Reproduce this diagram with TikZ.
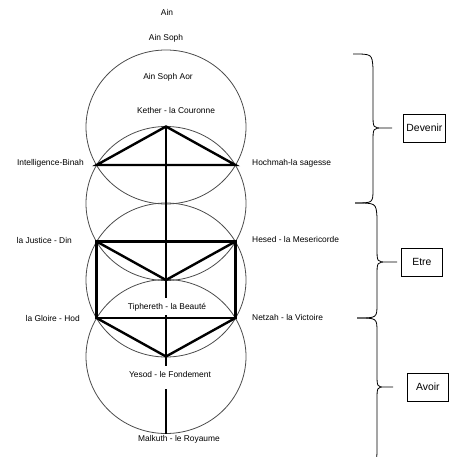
\documentclass[tikz,border=0pt]{standalone}
\usepackage{fontspec}
\setmainfont{Liberation Sans}
\usepackage{tikz}
\usetikzlibrary{positioning}

\begin{document}
\begin{tikzpicture}[
    x=1pt, y=-1pt,
    sphere/.style={draw=black!70, line width=0.8pt},
    channel/.style={line width=2.4pt},
    sefira/.style={font=\fontsize{8.4}{10}\selectfont, inner sep=1pt},
    curl/.style={line width=0.8pt},
    stage/.style={draw, line width=0.8pt, minimum width=42pt, minimum height=28pt, inner sep=0pt, font=\fontsize{10.4}{12}\selectfont}
]
\useasboundingbox (0,0) rectangle (456,457);

% the four circles
\draw[sphere] (166,127) ellipse [x radius=80, y radius=77];
\draw[sphere] (166,203.5) ellipse [x radius=80, y radius=77];
\draw[sphere] (166,280) ellipse [x radius=80, y radius=77];
\draw[sphere] (166,356.5) ellipse [x radius=80, y radius=77];

% the points of the tree
\coordinate (kether) at (166,126.5);
\coordinate (binah) at (96.6,165);
\coordinate (hochmah) at (235.4,165);
\coordinate (justice) at (96.6,241.5);
\coordinate (hesed) at (235.4,241.5);
\coordinate (tiphereth) at (166,280);
\coordinate (gloire) at (96.6,318);
\coordinate (netzah) at (235.4,318);
\coordinate (yesod) at (166,356.5);
\coordinate (malkuth) at (166,434);

\draw[channel] (kether) -- (malkuth);
\draw[channel] (binah) -- (kether) -- (hochmah) -- cycle;
\draw[channel] (justice) -- (hesed) -- (netzah) -- (gloire) -- cycle;
\draw[channel] (justice) -- (tiphereth) -- (hesed);
\draw[channel] (gloire) -- (yesod) -- (netzah);

% names
\node[sefira] (ain) at (167,12) {Ain};
\node[sefira] (ainsoph) at (166,38) {Ain Soph};
\node[sefira] (ainsophaor) at (168,77) {Ain Soph Aor};
\node[sefira] (ketherlabel) at (176,110) {Kether - la Couronne};
\node[sefira, anchor=east] (binahlabel) at (85,163) {Intelligence-Binah};
\node[sefira, anchor=west] (hochmahlabel) at (251,163) {Hochmah-la sagesse};
\node[sefira, anchor=east] (justicelabel) at (73,240) {la Justice - Din};
\node[sefira, anchor=west] (hesedlabel) at (251,239) {Hesed - la Mesericorde};
\node[sefira, anchor=east] (gloirelabel) at (81,318) {la Gloire - Hod};
\node[sefira, anchor=west] (netzahlabel) at (251,317) {Netzah - la Victoire};
\node[sefira, fill=white, anchor=base, text height=11pt, text depth=6pt, inner ysep=0pt] (tipherethlabel) at (167,309) {Tiphereth - la Beaut\'e};
\node[sefira, fill=white, anchor=base, text height=12pt, text depth=11pt, inner ysep=0pt] (yesodlabel) at (170,377.5) {Yesod - le Fondement};
\node[sefira] (malkuthlabel) at (179,439) {Malkuth - le Royaume};

% braces
\coordinate (devenirtip) at (392,128);
\coordinate (etretip) at (397,262);
\coordinate (avoirtip) at (393,387);
\draw[curl] (353,54) .. controls (372,54) .. (373,68) -- (373,114) .. controls (373,128) .. (383,128) -- (devenirtip) -- (383,128) .. controls (373,128) .. (373,142) -- (373,189) .. controls (373,203) .. (355,203);
\draw[curl] (355,203) .. controls (376,203) .. (377,217) -- (377,248) .. controls (377,262) .. (387,262) -- (etretip) -- (387,262) .. controls (377,262) .. (377,276) -- (377,304) .. controls (377,318) .. (357,318);
\draw[curl] (357,318) .. controls (377,318) .. (377,332) -- (377,373) .. controls (377,387) .. (385,387) -- (avoirtip) -- (385,387) .. controls (377,387) .. (377,401) -- (377,449) .. controls (377,463) .. (357,463);

\node[stage, right=11pt of devenirtip] (devenir) {Devenir};
\node[stage, minimum width=41pt, right=4pt of etretip] (etre) {Etre};
\node[stage, minimum width=41pt, right=14pt of avoirtip] (avoir) {Avoir};

\end{tikzpicture}
\end{document}
